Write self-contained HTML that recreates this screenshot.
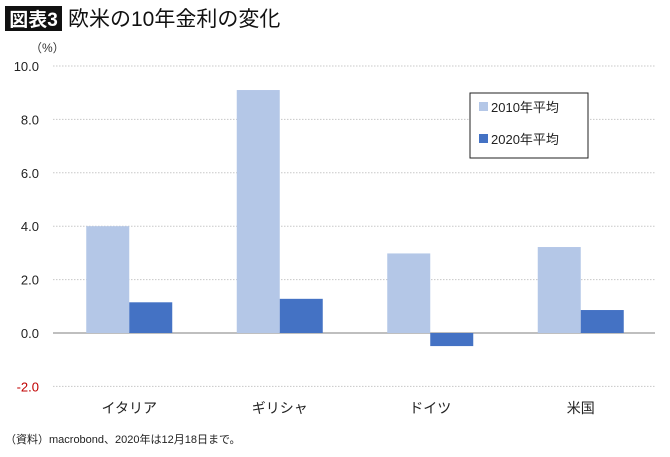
<!DOCTYPE html>
<html><head><meta charset="utf-8"><style>
body{margin:0;background:#fff;width:670px;height:452px;overflow:hidden;font-family:"Liberation Sans","Noto Sans CJK JP",sans-serif}
</style></head><body>
<svg width="670" height="452" xmlns="http://www.w3.org/2000/svg" font-family="'Liberation Sans','Noto Sans CJK JP',sans-serif">
<rect x="5" y="6" width="57" height="25" fill="#111"/>
<text x="33.5" y="26" font-size="19" font-weight="bold" fill="#fff" text-anchor="middle">図表3</text>
<text x="68" y="26" font-size="21" fill="#111">欧米の10年金利の変化</text>
<text x="30" y="52" font-size="12" fill="#333">（%）</text>
<g id="grid"></g><g id="bars"></g><g id="labels"></g>
<rect x="470" y="93" width="118" height="65" fill="#fff" stroke="#222" stroke-width="1"/>
<rect x="479" y="102" width="9" height="9" fill="#b4c7e7"/>
<text x="491" y="112" font-size="13" fill="#222">2010年平均</text>
<rect x="479" y="134" width="9" height="9" fill="#4472c4"/>
<text x="491" y="144" font-size="13" fill="#222">2020年平均</text>
<text x="5" y="443" font-size="11" fill="#222">（資料）macrobond、2020年は12月18日まで。</text>
</svg>
<script>
const categories=["イタリア","ギリシャ","ドイツ","米国"];
const avg2010=[4.0,9.1,2.98,3.22];
const avg2020=[1.15,1.28,-0.49,0.86];
const ticks=[10,8,6,4,2,0,-2];
const tickLabels=["10.0","8.0","6.0","4.0","2.0","0.0","-2.0"];
const NS="http://www.w3.org/2000/svg";
const x0=53,x1=655,yTop=66,yZero=333,ppu=26.7;
const y=v=>yZero-v*ppu;
const band=(x1-x0)/categories.length;
const cx=i=>x0+band*(i+0.5)+1;
const bw=43;
function mk(t,a,p){const e=document.createElementNS(NS,t);for(const k in a)e.setAttribute(k,a[k]);p.appendChild(e);return e;}
const g=document.getElementById('grid'),b=document.getElementById('bars'),l=document.getElementById('labels');
ticks.forEach((t,i)=>{
 const ln=mk('line',{x1:x0,x2:x1,y1:y(t),y2:y(t),stroke:t===0?'#999':'#c8c8c8','stroke-width':t===0?1.2:1,'stroke-dasharray':t===0?'none':'1.5 1.5'},g);
 
 
 const tx=mk('text',{x:39,y:y(t)+5,'font-size':13,'text-anchor':'end',fill:t<0?'#c00000':'#222'},l);
 tx.textContent=tickLabels[i];
 
 
});
categories.forEach((c,i)=>{
 const c1=cx(i);
 [[avg2010[i],'#b4c7e7',c1-bw,'bar-2010'],[avg2020[i],'#4472c4',c1,'bar-2020']].forEach(([v,col,x,n])=>{
  const r=mk('rect',{x:x,width:bw,y:Math.min(y(v),yZero),height:Math.abs(y(v)-yZero),fill:col},b);
  
  
 });
 const t=mk('text',{x:c1,y:413,'font-size':14,'text-anchor':'middle',fill:'#222'},l);
 t.textContent=c;
 
 
});
</script>
</body></html>
